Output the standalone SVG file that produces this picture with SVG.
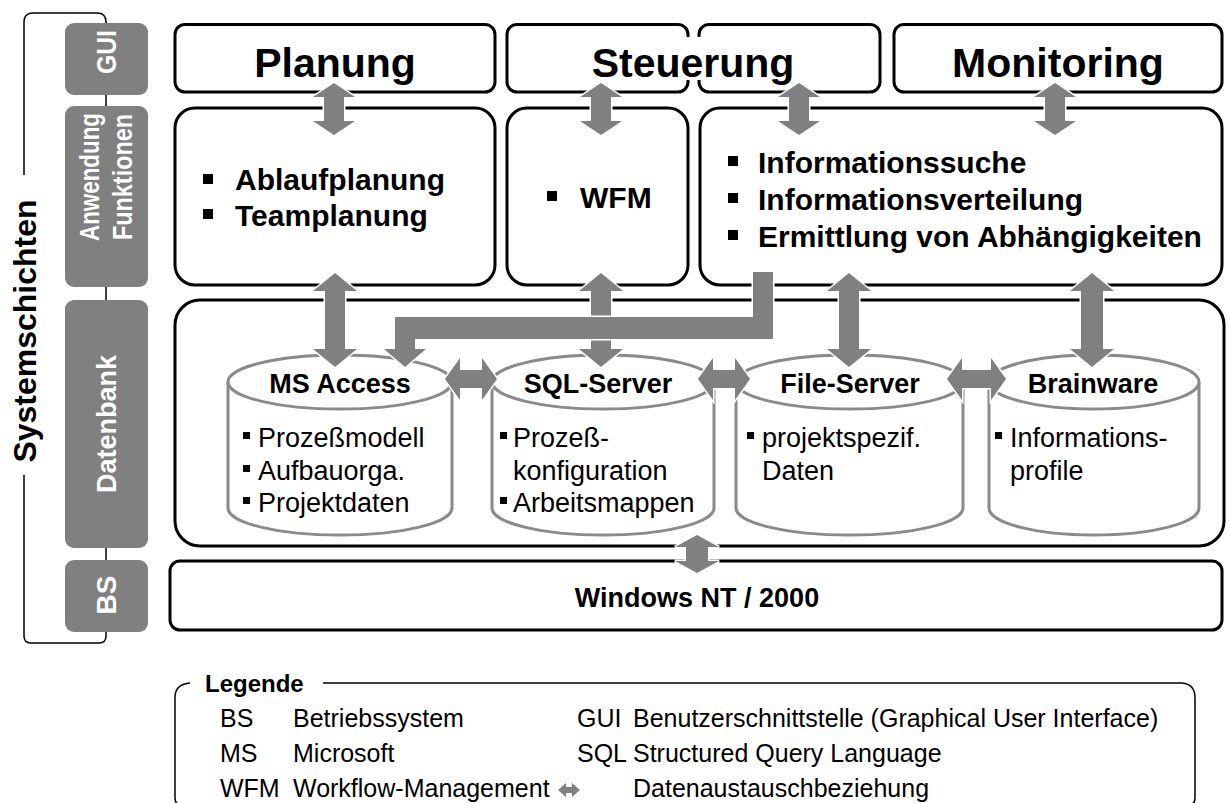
<svg xmlns="http://www.w3.org/2000/svg" width="1229" height="803" viewBox="0 0 1229 803">
<style>
.t{font-family:'Liberation Sans',Arial,sans-serif;fill:#000}
.b{font-weight:bold}
.lb{fill:#808080}
.lt{font-family:'Liberation Sans',Arial,sans-serif;font-weight:bold;fill:#fff;text-anchor:middle}
.box{fill:#fff;stroke:#000;stroke-width:3}
.arr{fill:#808080;stroke:#fff;stroke-width:3;paint-order:stroke}
.cyl{fill:#fff;stroke:#8a8a8a;stroke-width:3}
.ln{fill:none;stroke:#000;stroke-width:1.5}
.bul{fill:#000}
</style>
<rect width="1229" height="803" fill="#fff"/>

<g id="layers">
  <path class="ln" d="M24 175 V22 Q24 13 33 13 H97 Q106 13 106 22 V636 Q106 643 99 643 H31 Q24 643 24 636 V475"/>
  <text class="t b" font-size="32" text-anchor="middle" transform="translate(36,331) rotate(-90)">Systemschichten</text>
  <g id="layer-gui"><rect class="lb" x="65" y="23" width="83" height="72" rx="9"/>
    <text class="lt" font-size="28" textLength="44" lengthAdjust="spacingAndGlyphs" transform="translate(116,52) rotate(-90)">GUI</text></g>
  <g id="layer-anwendung"><rect class="lb" x="65" y="106" width="83" height="181" rx="9"/>
    <text class="lt" font-size="27" textLength="128" lengthAdjust="spacingAndGlyphs" transform="translate(99,177) rotate(-90)">Anwendung</text>
    <text class="lt" font-size="27" textLength="126" lengthAdjust="spacingAndGlyphs" transform="translate(132,177) rotate(-90)">Funktionen</text></g>
  <g id="layer-datenbank"><rect class="lb" x="65" y="300" width="83" height="248" rx="9"/>
    <text class="lt" font-size="28" textLength="138" lengthAdjust="spacingAndGlyphs" transform="translate(116,424) rotate(-90)">Datenbank</text></g>
  <g id="layer-bs"><rect class="lb" x="65" y="560" width="83" height="72" rx="9"/>
    <text class="lt" font-size="28" transform="translate(116,595) rotate(-90)">BS</text></g>
</g>

<g id="gui-planung"><rect class="box" x="175" y="24.5" width="320" height="67.5" rx="10"/>
  <text class="t b" x="335" y="77" font-size="41" text-anchor="middle">Planung</text></g>
<g id="gui-steuerung"><rect class="box" x="507" y="24.5" width="181" height="67.5" rx="10"/>
  <rect class="box" x="699" y="24.5" width="181" height="67.5" rx="10"/>
  <rect x="681" y="37" width="26" height="43" fill="#fff"/>
  <text class="t b" x="693" y="77" font-size="41" text-anchor="middle">Steuerung</text></g>
<g id="gui-monitoring"><rect class="box" x="894" y="24.5" width="328" height="67.5" rx="10"/>
  <text class="t b" x="1058" y="77" font-size="41" text-anchor="middle">Monitoring</text></g>

<g id="fn-planung"><rect class="box" x="175" y="108" width="320" height="177" rx="20"/>
  <rect class="bul" x="203" y="174" width="10" height="10"/>
  <text class="t b" x="235" y="190" font-size="30">Ablaufplanung</text>
  <rect class="bul" x="203" y="209" width="10" height="10"/>
  <text class="t b" x="235" y="226" font-size="30">Teamplanung</text></g>
<g id="fn-steuerung"><rect class="box" x="507" y="108" width="181" height="177" rx="20"/>
  <rect class="bul" x="547" y="191" width="10" height="10"/>
  <text class="t b" x="580" y="208" font-size="30">WFM</text></g>
<g id="fn-monitoring"><rect class="box" x="700" y="108" width="522" height="177" rx="20"/>
  <rect class="bul" x="728" y="156" width="10" height="10"/>
  <text class="t b" x="758" y="173" font-size="30">Informationssuche</text>
  <rect class="bul" x="728" y="193" width="10" height="10"/>
  <text class="t b" x="758" y="210" font-size="30">Informationsverteilung</text>
  <rect class="bul" x="728" y="230" width="10" height="10"/>
  <text class="t b" x="758" y="247" font-size="30">Ermittlung von Abhängigkeiten</text></g>

<g id="db-layer"><rect class="box" x="175" y="300" width="1049" height="246" rx="25"/></g>

<g id="db-msaccess">
  <path class="cyl" d="M228 382 V508 A112 27 0 0 0 452 508 V382"/>
  <ellipse class="cyl" cx="340" cy="382" rx="112" ry="27"/>
  <text class="t b" x="340" y="393" font-size="27" text-anchor="middle">MS Access</text>
  <rect class="bul" x="243" y="432" width="7" height="7"/><text class="t" x="258" y="447" font-size="27">Prozeßmodell</text>
  <rect class="bul" x="243" y="465" width="7" height="7"/><text class="t" x="258" y="480" font-size="27">Aufbauorga.</text>
  <rect class="bul" x="243" y="497" width="7" height="7"/><text class="t" x="258" y="512" font-size="27">Projektdaten</text>
</g>
<g id="db-sqlserver">
  <path class="cyl" d="M492 382 V508 A111 27 0 0 0 714 508 V382"/>
  <ellipse class="cyl" cx="603" cy="382" rx="111" ry="27"/>
  <text class="t b" x="598" y="393" font-size="27" text-anchor="middle">SQL-Server</text>
  <rect class="bul" x="500" y="432" width="7" height="7"/><text class="t" x="513" y="447" font-size="27">Prozeß-</text>
  <text class="t" x="513" y="480" font-size="27">konfiguration</text>
  <rect class="bul" x="500" y="497" width="7" height="7"/><text class="t" x="513" y="512" font-size="27">Arbeitsmappen</text>
</g>
<g id="db-fileserver">
  <path class="cyl" d="M736 382 V508 A113.5 27 0 0 0 963 508 V382"/>
  <ellipse class="cyl" cx="849.5" cy="382" rx="113.5" ry="27"/>
  <text class="t b" x="850" y="393" font-size="27" text-anchor="middle">File-Server</text>
  <rect class="bul" x="747" y="432" width="7" height="7"/><text class="t" x="762" y="447" font-size="27">projektspezif.</text>
  <text class="t" x="762" y="480" font-size="27">Daten</text>
</g>
<g id="db-brainware">
  <path class="cyl" d="M989 382 V508 A105 27 0 0 0 1199 508 V382"/>
  <ellipse class="cyl" cx="1094" cy="382" rx="105" ry="27"/>
  <text class="t b" x="1093" y="393" font-size="27" text-anchor="middle">Brainware</text>
  <rect class="bul" x="995" y="432" width="7" height="7"/><text class="t" x="1010" y="447" font-size="27">Informations-</text>
  <text class="t" x="1010" y="480" font-size="27">profile</text>
</g>

<g id="os-windows"><rect class="box" x="170" y="561" width="1052" height="69" rx="10"/>
  <text class="t b" x="697" y="607" font-size="27" text-anchor="middle">Windows NT / 2000</text></g>

<g id="connectors">
  <path class="arr" d="M334 83 L355 97 H344 V121 H355 L334 135 L313 121 H324 V97 H313 Z"/>
  <path class="arr" d="M601 83 L622 97 H611 V121 H622 L601 135 L580 121 H591 V97 H580 Z"/>
  <path class="arr" d="M799 83 L820 97 H809 V121 H820 L799 135 L778 121 H789 V97 H778 Z"/>
  <path class="arr" d="M1055 83 L1076 97 H1065 V121 H1076 L1055 135 L1034 121 H1045 V97 H1034 Z"/>
  <path class="arr" d="M335 273 L357 291 H345 V349 H357 L335 367 L313 349 H325 V291 H313 Z"/>
  <path class="arr" d="M601 273 L623 291 H611 V349 H623 L601 367 L579 349 H591 V291 H579 Z"/>
  <path class="arr" d="M849 273 L871 291 H859 V349 H871 L849 367 L827 349 H839 V291 H827 Z"/>
  <path class="arr" d="M1092 273 L1114 291 H1103 V349 H1114 L1092 367 L1070 349 H1081 V291 H1070 Z"/>
  <path class="arr" d="M753 272 H773 V339 H415 V349 H426 L405 367 L384 349 H395 V317 H753 Z"/>
  <path class="arr" d="M445 379 L460 358 V370 H482 V358 L497 379 L482 400 V388 H460 V400 Z"/>
  <path class="arr" d="M698 379 L713 358 V370 H735 V358 L750 379 L735 400 V388 H713 V400 Z"/>
  <path class="arr" d="M947 379 L962 358 V370 H991 V358 L1006 379 L991 400 V388 H962 V400 Z"/>
  <path class="arr" d="M697 535 L719 547 H708 V561 H719 L697 573 L675 561 H686 V547 H675 Z"/>
</g>

<g id="legend">
  <path class="ln" d="M190 683 Q176 684 175 696 V798 Q175 805 182 805 H1188 Q1195 805 1195 798 V698 Q1195 684 1182 683 H323"/>
  <text class="t b" x="205" y="692" font-size="24">Legende</text>
  <g class="t" font-size="25">
    <text x="220" y="727">BS</text><text x="293" y="727">Betriebssystem</text>
    <text x="577" y="727">GUI</text><text x="633" y="727">Benutzerschnittstelle (Graphical User Interface)</text>
    <text x="220" y="762">MS</text><text x="293" y="762">Microsoft</text>
    <text x="577" y="762">SQL</text><text x="633" y="762">Structured Query Language</text>
    <text x="220" y="797">WFM</text><text x="293" y="797">Workflow-Management</text>
    <text x="633" y="797">Datenaustauschbeziehung</text>
  </g>
  <path fill="#808080" d="M558 790 L566 783 V787 H572 V783 L580 790 L572 797 V793 H566 V797 Z"/>
</g>
</svg>
